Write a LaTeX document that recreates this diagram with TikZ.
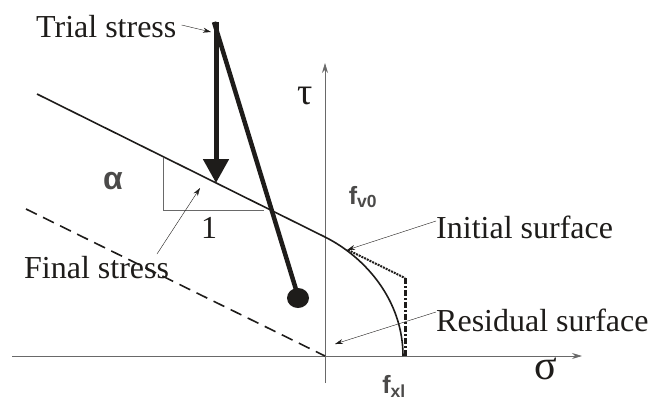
\documentclass[tikz,border=0pt]{standalone}
\usepackage{fontspec}
\setmainfont{Liberation Serif}
\setsansfont{Liberation Sans}
\usepackage{xcolor}
\usetikzlibrary{arrows.meta, calc}
\definecolor{axisG}{RGB}{105,105,105}
\definecolor{inkD}{RGB}{30,28,26}
\tikzset{lbl/.style={font=\fontsize{32}{32}\selectfont, inner sep=0pt, text=inkD},
  sym/.style={font=\sffamily\bfseries\fontsize{25}{25}\selectfont, inner sep=0pt, text=axisG!60!inkD},
  pointer/.style={-{Stealth[length=8pt, width=5pt]}, thin, inkD}}

\begin{document}
\begin{tikzpicture}[x=1pt, y=-1pt]
\useasboundingbox (0,0) rectangle (657,400);
% axes
\draw[axisG, thick, -{Stealth[length=10pt, width=6pt]}] (12,356) -- (582,356);
\draw[axisG, thick, -{Stealth[length=10pt, width=6pt]}] (325,383) -- (325,63);
\node[lbl, font=\fontsize{38}{38}\selectfont] (tau) at (305,96) {τ};
\node[lbl, font=\fontsize{42}{42}\selectfont] (sigma) at (546,369) {σ};
% initial surface
\coordinate (A) at (37,94);
\coordinate (B) at (325,237);
\coordinate (C) at (403,356);
\draw[inkD, line width=1.6pt] (A) -- (B) .. controls (365,257) and (403,300) .. (C);
\draw[inkD, line width=2pt, densely dotted] (348,250) -- (405,278);
\draw[inkD, line width=3pt, dash pattern=on 6pt off 2pt on 2pt off 2pt] (405,278) -- (405,356);
% residual surface
\draw[inkD, line width=1.6pt, dash pattern=on 12pt off 7pt] (26,209) -- (325,356);
% slope triangle
\draw[axisG, thick] (163,158) -- (163,210) -- (264,210);
\node[sym, font=\sffamily\bfseries\fontsize{32}{32}\selectfont] (alpha) at (113,181) {α};
\node[lbl] (one) at (209,228) {1};
% stress path
\coordinate (T) at (213,20);
\draw[inkD, line width=5pt, -{Triangle[length=24pt, width=25pt]}] (216,22) -- (216,183);
\draw[inkD, line width=4.5pt] (214,22) -- (298,296);
\fill[inkD] (298,298) ellipse (11pt and 10pt);
% labels
\node[lbl, anchor=west] (trial) at (36,27) {Trial stress};
\draw[pointer] (trial.east) ++(5pt,2pt) coordinate (t0) -- (211,32);
\node[lbl, anchor=west] (final) at (24,268) {Final stress};
\coordinate (F) at (200,188);
\draw[pointer] (157,254) -- (F);
\node[sym] (fv) at (363,197) {f\textsubscript{v0}};
\node[sym] (fx) at (394,386) {f\textsubscript{xl}};
\node[lbl, anchor=west] (init) at (436,227) {Initial surface};
\coordinate (I) at (347,250);
\draw[pointer] (init.west) ++(0,6pt) -- (I);
\node[lbl, anchor=west] (resid) at (436,320) {Residual surface};
\coordinate (R) at (335,344);
\draw[pointer] (resid.west) ++(0,8pt) -- (R);
\end{tikzpicture}
\end{document}
